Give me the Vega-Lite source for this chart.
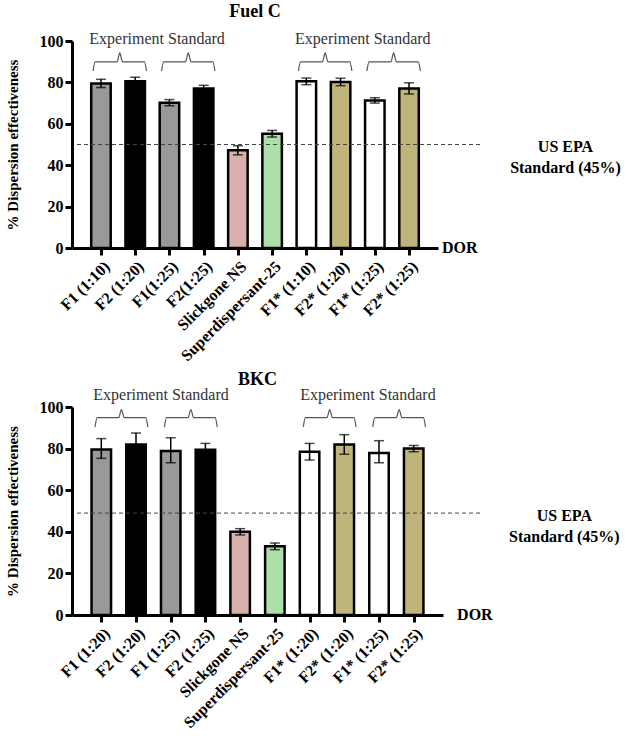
{
  "$schema": "https://vega.github.io/schema/vega-lite/v6.json",
  "background": "white",
  "padding": {"left": 5, "top": 2, "right": 2, "bottom": 2},
  "spacing": 6,
  "config": {
    "font": "Liberation Serif",
    "view": {"stroke": null},
    "axis": {
      "grid": false,
      "domainColor": "black", "domainWidth": 3,
      "tickColor": "black", "tickWidth": 3, "tickSize": 7,
      "labelFont": "Liberation Serif", "labelFontWeight": "bold", "labelFontSize": 16, "labelColor": "black", "labelOverlap": false,
      "titleFont": "Liberation Serif", "titleFontWeight": "bold", "titleFontSize": 15, "titleColor": "black"
    },
    "title": {"font": "Liberation Serif", "fontSize": 18, "fontWeight": "bold", "color": "black", "frame": "group"}
  },
  "datasets": {
    "barsFuel": [
      {"name": "F1 (1:10)", "grp": "F1", "x": 1, "y": 79.5},
      {"name": "F2 (1:20)", "grp": "F2", "x": 2, "y": 80.5},
      {"name": "F1(1:25)", "grp": "F1", "x": 3, "y": 70.2},
      {"name": "F2(1:25)", "grp": "F2", "x": 4, "y": 77.1},
      {"name": "Slickgone NS", "grp": "Slickgone", "x": 5, "y": 47.2},
      {"name": "Superdispersant-25", "grp": "Super", "x": 6, "y": 55.2},
      {"name": "F1* (1:10)", "grp": "F1*", "x": 7, "y": 80.5},
      {"name": "F2* (1:20)", "grp": "F2*", "x": 8, "y": 80.2},
      {"name": "F1* (1:25)", "grp": "F1*", "x": 9, "y": 71.3},
      {"name": "F2* (1:25)", "grp": "F2*", "x": 10, "y": 77.1}
    ],
    "errFuel": [
      {"x": 1, "y": 77.5, "y2": 81.5}, {"x": 2, "y": 78.5, "y2": 82.5}, {"x": 3, "y": 68.7, "y2": 71.7},
      {"x": 4, "y": 75.6, "y2": 78.6}, {"x": 5, "y": 45.0, "y2": 49.4}, {"x": 6, "y": 53.6, "y2": 56.8},
      {"x": 7, "y": 78.9, "y2": 82.1}, {"x": 8, "y": 78.4, "y2": 82.0}, {"x": 9, "y": 70.0, "y2": 72.6},
      {"x": 10, "y": 74.4, "y2": 79.8}
    ],
    "capFuel": [
      {"x": 1, "y": 77.5}, {"x": 1, "y": 81.5}, {"x": 2, "y": 78.5}, {"x": 2, "y": 82.5},
      {"x": 3, "y": 68.7}, {"x": 3, "y": 71.7}, {"x": 4, "y": 75.6}, {"x": 4, "y": 78.6},
      {"x": 5, "y": 45.0}, {"x": 5, "y": 49.4}, {"x": 6, "y": 53.6}, {"x": 6, "y": 56.8},
      {"x": 7, "y": 78.9}, {"x": 7, "y": 82.1}, {"x": 8, "y": 78.4}, {"x": 8, "y": 82.0},
      {"x": 9, "y": 70.0}, {"x": 9, "y": 72.6}, {"x": 10, "y": 74.4}, {"x": 10, "y": 79.8}
    ],
    "barsBkc": [
      {"name": "F1 (1:20)", "grp": "F1", "x": 1, "y": 79.6},
      {"name": "F2 (1:20)", "grp": "F2", "x": 2, "y": 82.0},
      {"name": "F1 (1:25)", "grp": "F1", "x": 3, "y": 78.8},
      {"name": "F2 (1:25)", "grp": "F2", "x": 4, "y": 79.5},
      {"name": "Slickgone NS", "grp": "Slickgone", "x": 5, "y": 40.0},
      {"name": "Superdispersant-25", "grp": "Super", "x": 6, "y": 33.0},
      {"name": "F1* (1:20)", "grp": "F1*", "x": 7, "y": 78.5},
      {"name": "F2* (1:20)", "grp": "F2*", "x": 8, "y": 82.0},
      {"name": "F1* (1:25)", "grp": "F1*", "x": 9, "y": 77.9},
      {"name": "F2* (1:25)", "grp": "F2*", "x": 10, "y": 80.0}
    ],
    "errBkc": [
      {"x": 1, "y": 75.3, "y2": 84.8}, {"x": 2, "y": 76.5, "y2": 87.5}, {"x": 3, "y": 73.2, "y2": 85.2},
      {"x": 4, "y": 76.5, "y2": 82.5}, {"x": 5, "y": 38.5, "y2": 41.5}, {"x": 6, "y": 31.4, "y2": 34.6},
      {"x": 7, "y": 74.5, "y2": 82.5}, {"x": 8, "y": 77.3, "y2": 86.7}, {"x": 9, "y": 73.2, "y2": 83.8},
      {"x": 10, "y": 78.5, "y2": 81.5}
    ],
    "capBkc": [
      {"x": 1, "y": 75.3}, {"x": 1, "y": 84.8}, {"x": 2, "y": 76.5}, {"x": 2, "y": 87.5},
      {"x": 3, "y": 73.2}, {"x": 3, "y": 85.2}, {"x": 4, "y": 76.5}, {"x": 4, "y": 82.5},
      {"x": 5, "y": 38.5}, {"x": 5, "y": 41.5}, {"x": 6, "y": 31.4}, {"x": 6, "y": 34.6},
      {"x": 7, "y": 74.5}, {"x": 7, "y": 82.5}, {"x": 8, "y": 77.3}, {"x": 8, "y": 86.7},
      {"x": 9, "y": 73.2}, {"x": 9, "y": 83.8}, {"x": 10, "y": 78.5}, {"x": 10, "y": 81.5}
    ],
    "brFuel": [
      {"b": 1, "x": 0.77, "y": 85.5}, {"b": 1, "x": 0.83, "y": 89.9}, {"b": 1, "x": 1.47, "y": 89.9}, {"b": 1, "x": 1.55, "y": 94.3}, {"b": 1, "x": 1.63, "y": 89.9}, {"b": 1, "x": 2.27, "y": 89.9}, {"b": 1, "x": 2.33, "y": 85.5},
      {"b": 2, "x": 2.77, "y": 85.5}, {"b": 2, "x": 2.83, "y": 89.9}, {"b": 2, "x": 3.47, "y": 89.9}, {"b": 2, "x": 3.55, "y": 94.3}, {"b": 2, "x": 3.63, "y": 89.9}, {"b": 2, "x": 4.27, "y": 89.9}, {"b": 2, "x": 4.33, "y": 85.5},
      {"b": 3, "x": 6.77, "y": 85.5}, {"b": 3, "x": 6.83, "y": 89.9}, {"b": 3, "x": 7.47, "y": 89.9}, {"b": 3, "x": 7.55, "y": 94.3}, {"b": 3, "x": 7.63, "y": 89.9}, {"b": 3, "x": 8.27, "y": 89.9}, {"b": 3, "x": 8.33, "y": 85.5},
      {"b": 4, "x": 8.77, "y": 85.5}, {"b": 4, "x": 8.83, "y": 89.9}, {"b": 4, "x": 9.47, "y": 89.9}, {"b": 4, "x": 9.55, "y": 94.3}, {"b": 4, "x": 9.63, "y": 89.9}, {"b": 4, "x": 10.27, "y": 89.9}, {"b": 4, "x": 10.33, "y": 85.5}
    ],
    "brBkc": [
      {"b": 1, "x": 0.82, "y": 90.4}, {"b": 1, "x": 0.88, "y": 94.9}, {"b": 1, "x": 1.50, "y": 94.9}, {"b": 1, "x": 1.58, "y": 98.8}, {"b": 1, "x": 1.66, "y": 94.9}, {"b": 1, "x": 2.28, "y": 94.9}, {"b": 1, "x": 2.34, "y": 90.4},
      {"b": 2, "x": 2.82, "y": 90.4}, {"b": 2, "x": 2.88, "y": 94.9}, {"b": 2, "x": 3.50, "y": 94.9}, {"b": 2, "x": 3.58, "y": 98.8}, {"b": 2, "x": 3.66, "y": 94.9}, {"b": 2, "x": 4.28, "y": 94.9}, {"b": 2, "x": 4.34, "y": 90.4},
      {"b": 3, "x": 6.82, "y": 90.4}, {"b": 3, "x": 6.88, "y": 94.9}, {"b": 3, "x": 7.50, "y": 94.9}, {"b": 3, "x": 7.58, "y": 98.8}, {"b": 3, "x": 7.66, "y": 94.9}, {"b": 3, "x": 8.28, "y": 94.9}, {"b": 3, "x": 8.34, "y": 90.4},
      {"b": 4, "x": 8.82, "y": 90.4}, {"b": 4, "x": 8.88, "y": 94.9}, {"b": 4, "x": 9.50, "y": 94.9}, {"b": 4, "x": 9.58, "y": 98.8}, {"b": 4, "x": 9.66, "y": 94.9}, {"b": 4, "x": 10.28, "y": 94.9}, {"b": 4, "x": 10.34, "y": 90.4}
    ],
    "expFuel": [{"t": "Experiment  Standard", "x": 2.64, "y": 101}, {"t": "Experiment  Standard", "x": 8.65, "y": 101}],
    "expBkc": [{"t": "Experiment  Standard", "x": 2.72, "y": 106}, {"t": "Experiment  Standard", "x": 8.68, "y": 106}],
    "refFuel": [{"x": 0.3, "x2": 12.15, "y": 50}],
    "refBkc": [{"x": 0.3, "x2": 11.96, "y": 49}],
    "dorFuel": [{"t": "DOR", "x": 10.96, "y": 0}],
    "dorBkc": [{"t": "DOR", "x": 11.25, "y": 0}],
    "epaFuel": [{"t": "US EPA\nStandard  (45%)", "x": 14.57, "y": 49}],
    "epaBkc": [{"t": "US EPA\nStandard  (45%)", "x": 14.34, "y": 47.6}]
  },
  "vconcat": [
    {
      "title": {"text": "Fuel C", "offset": 10},
      "width": 366, "height": 207,
      "encoding": {
        "x": {"field": "x", "type": "quantitative", "scale": {"domain": [0.3, 10.7], "nice": false, "zero": false},
              "axis": {"title": null, "values": [1, 2, 3, 4, 5, 6, 7, 8, 9, 10], "labelAngle": -45, "labelPadding": 3,
                       "labelExpr": "['F1 (1:10)','F2 (1:20)','F1(1:25)','F2(1:25)','Slickgone NS','Superdispersant-25','F1* (1:10)','F2* (1:20)','F1* (1:25)','F2* (1:25)'][datum.value - 1]"}},
        "y": {"field": "y", "type": "quantitative", "scale": {"domain": [0, 100]},
              "axis": {"title": "% Dispersion effectiveness", "values": [0, 20, 40, 60, 80, 100], "labelPadding": 2, "titlePadding": 19}}
      },
      "layer": [
        {
          "data": {"name": "barsFuel"},
          "mark": {"type": "bar", "orient": "vertical", "width": 19.5, "stroke": "black", "strokeWidth": 2.5},
          "encoding": {
            "fill": {"field": "grp", "type": "nominal", "legend": null,
                     "scale": {"domain": ["F1", "F2", "Slickgone", "Super", "F1*", "F2*"], "range": ["#999999", "#000000", "#d8b0ae", "#addfa8", "#ffffff", "#bfb47a"]}}
          }
        },
        {
          "data": {"name": "errFuel"},
          "mark": {"type": "rule", "color": "black", "strokeWidth": 1.5},
          "encoding": {"y2": {"field": "y2"}}
        },
        {
          "data": {"name": "capFuel"},
          "mark": {"type": "tick", "orient": "horizontal", "color": "black", "size": 10, "thickness": 1.5}
        },
        {
          "data": {"name": "refFuel"},
          "mark": {"type": "rule", "strokeDash": [4, 3], "color": "#444444", "strokeWidth": 1, "clip": false},
          "encoding": {"x2": {"field": "x2"}}
        },
        {
          "data": {"name": "brFuel"},
          "mark": {"type": "line", "interpolate": "monotone", "color": "#555555", "strokeWidth": 1.2, "clip": false},
          "encoding": {"detail": {"field": "b", "type": "nominal"}}
        },
        {
          "data": {"name": "expFuel"},
          "mark": {"type": "text", "font": "Liberation Serif", "fontSize": 16, "color": "#333333", "baseline": "middle", "clip": false},
          "encoding": {"text": {"field": "t"}}
        },
        {
          "data": {"name": "dorFuel"},
          "mark": {"type": "text", "font": "Liberation Serif", "fontSize": 16, "fontWeight": "bold", "color": "black", "align": "left", "baseline": "middle", "clip": false},
          "encoding": {"text": {"field": "t"}}
        },
        {
          "data": {"name": "epaFuel"},
          "mark": {"type": "text", "font": "Liberation Serif", "fontSize": 16, "fontWeight": "bold", "color": "black", "align": "center", "baseline": "middle", "lineBreak": "\n", "lineHeight": 21, "clip": false},
          "encoding": {"text": {"field": "t"}}
        }
      ]
    },
    {
      "title": {"text": "BKC", "offset": -2},
      "width": 371, "height": 208,
      "encoding": {
        "x": {"field": "x", "type": "quantitative", "scale": {"domain": [0.3, 10.7], "nice": false, "zero": false},
              "axis": {"title": null, "values": [1, 2, 3, 4, 5, 6, 7, 8, 9, 10], "labelAngle": -45, "labelPadding": 3,
                       "labelExpr": "['F1 (1:20)','F2 (1:20)','F1 (1:25)','F2 (1:25)','Slickgone NS','Superdispersant-25','F1* (1:20)','F2* (1:20)','F1* (1:25)','F2* (1:25)'][datum.value - 1]"}},
        "y": {"field": "y", "type": "quantitative", "scale": {"domain": [0, 100]},
              "axis": {"title": "% Dispersion effectiveness", "values": [0, 20, 40, 60, 80, 100], "labelPadding": 2, "titlePadding": 19}}
      },
      "layer": [
        {
          "data": {"name": "barsBkc"},
          "mark": {"type": "bar", "orient": "vertical", "width": 19.5, "stroke": "black", "strokeWidth": 2.5},
          "encoding": {
            "fill": {"field": "grp", "type": "nominal", "legend": null,
                     "scale": {"domain": ["F1", "F2", "Slickgone", "Super", "F1*", "F2*"], "range": ["#999999", "#000000", "#d8b0ae", "#addfa8", "#ffffff", "#bfb47a"]}}
          }
        },
        {
          "data": {"name": "errBkc"},
          "mark": {"type": "rule", "color": "black", "strokeWidth": 1.5},
          "encoding": {"y2": {"field": "y2"}}
        },
        {
          "data": {"name": "capBkc"},
          "mark": {"type": "tick", "orient": "horizontal", "color": "black", "size": 10, "thickness": 1.5}
        },
        {
          "data": {"name": "refBkc"},
          "mark": {"type": "rule", "strokeDash": [4, 3], "color": "#444444", "strokeWidth": 1, "clip": false},
          "encoding": {"x2": {"field": "x2"}}
        },
        {
          "data": {"name": "brBkc"},
          "mark": {"type": "line", "interpolate": "monotone", "color": "#555555", "strokeWidth": 1.2, "clip": false},
          "encoding": {"detail": {"field": "b", "type": "nominal"}}
        },
        {
          "data": {"name": "expBkc"},
          "mark": {"type": "text", "font": "Liberation Serif", "fontSize": 16, "color": "#333333", "baseline": "middle", "clip": false},
          "encoding": {"text": {"field": "t"}}
        },
        {
          "data": {"name": "dorBkc"},
          "mark": {"type": "text", "font": "Liberation Serif", "fontSize": 16, "fontWeight": "bold", "color": "black", "align": "left", "baseline": "middle", "clip": false},
          "encoding": {"text": {"field": "t"}}
        },
        {
          "data": {"name": "epaBkc"},
          "mark": {"type": "text", "font": "Liberation Serif", "fontSize": 16, "fontWeight": "bold", "color": "black", "align": "center", "baseline": "middle", "lineBreak": "\n", "lineHeight": 21, "clip": false},
          "encoding": {"text": {"field": "t"}}
        }
      ]
    }
  ]
}
